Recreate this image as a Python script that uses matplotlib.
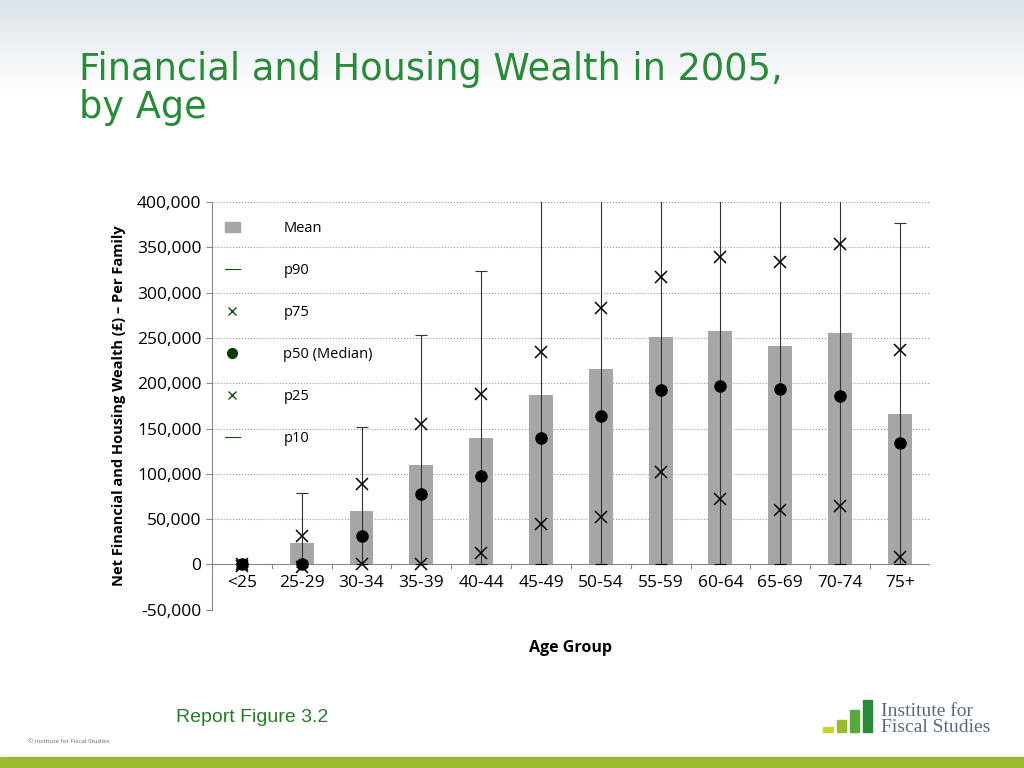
import matplotlib
matplotlib.use("Agg")
import matplotlib.pyplot as plt
import numpy as np
from matplotlib.lines import Line2D
from matplotlib.patches import Rectangle

groups = ["<25","25-29","30-34","35-39","40-44","45-49","50-54","55-59","60-64","65-69","70-74","75+"]
mean = [1000, 24000, 59000, 110000, 140000, 187000, 216000, 251000, 258000, 241000, 255000, 166000]
p90 = [2000, 79000, 152000, 253000, 324000, 450000, 520000, 600000, 650000, 600000, 560000, 377000]
p75 = [0, 31000, 89000, 155000, 188000, 234000, 283000, 317000, 339000, 334000, 354000, 237000]
p50 = [0, 1000, 31000, 78000, 98000, 140000, 164000, 192000, 197000, 194000, 186000, 134000]
p25 = [-2000, -3000, 1000, 1000, 13000, 45000, 52000, 102000, 72000, 60000, 64000, 8000]
p10 = [-3000, -3000, 0, 0, 0, 0, 0, 0, 0, 0, 0, 0]

plt.rcParams["font.family"] = ["Open Sans", "DejaVu Sans"]
fig = plt.figure(figsize=(10.24, 7.68), dpi=100)
grad = np.linspace(0.0, 1.0, 100).reshape(-1, 1)
rgb = np.dstack([0.86 + 0.14*grad, 0.89 + 0.11*grad, 0.91 + 0.09*grad])
hax = fig.add_axes([0, 0.88, 1, 0.12]); hax.axis("off")
hax.imshow(rgb, aspect="auto", extent=[0,1,0,1], origin="upper")
fig.add_artist(Rectangle((0, 0), 1, 11/768, transform=fig.transFigure, color="#9bbb2f"))

fig.text(0.077, 0.885, "Financial and Housing Wealth in 2005,\nby Age", color="#2a8a3a",
         fontsize=26.5, va="center", linespacing=1.05, family="DejaVu Sans")
fig.text(0.172, 0.06, "Report Figure 3.2", color="#2a7a2a", fontsize=14, family="Liberation Sans")
fig.text(0.027, 0.033, "© Institute for Fiscal Studies", color="#666666", fontsize=4.5)
for i, (h, c) in enumerate([(0.006, "#c5d43a"), (0.015, "#9bbb2f"), (0.028, "#5aa83a"), (0.042, "#2a8a3a")]):
    fig.add_artist(Rectangle((0.804 + i*0.013, 0.047), 0.009, h, transform=fig.transFigure, color=c))
fig.text(0.86, 0.063, "Institute for\nFiscal Studies", color="#5a6a7a", fontsize=14,
         family="Liberation Serif", va="center", linespacing=0.9)

ax = fig.add_axes([0.207, 0.206, 0.701, 0.531])
x = np.arange(len(groups))
ax.bar(x, mean, width=0.4, color="#a6a6a6", zorder=2)
ax.vlines(x, p10, p90, color="#333333", lw=0.8, zorder=3)
ax.plot(x, p90, "_", color="#333333", ms=8, mew=0.8, zorder=3)
ax.plot(x, p75, "x", color="black", ms=9, mew=1.1, zorder=4)
ax.plot(x, p25, "x", color="black", ms=9, mew=1.1, zorder=4)
ax.plot(x, p50, "o", color="black", ms=8, zorder=5)
ax.plot(x, p10, "_", color="black", ms=8, mew=0.8, zorder=4)

ax.set_ylim(-50000, 400000)
ax.set_xlim(-0.5, len(groups) - 0.5)
ax.set_yticks(np.arange(-50000, 400001, 50000))
ax.set_yticklabels([f"{v:,}" for v in range(-50000, 400001, 50000)], fontsize=12.5)
ax.set_xticks([])
for xi, g in zip(x, groups):
    ax.text(xi, -12000, g, ha="center", va="top", fontsize=12.5)
ax.axhline(0, color="#888888", lw=0.8, zorder=2)
for b in np.arange(-0.5, len(groups), 1):
    ax.plot([b, b], [0, -4000], color="#888888", lw=0.8, zorder=2)
ax.grid(axis="y", color="#999999", ls=":", lw=0.8, zorder=0)
for s in ["top", "right", "bottom"]:
    ax.spines[s].set_visible(False)
ax.spines["left"].set_color("#888888")
ax.tick_params(axis="y", length=4, color="#888888")
ax.set_ylabel("Net Financial and Housing Wealth (£) – Per Family", fontsize=10.5, fontweight="bold", labelpad=8)
ax.set_xlabel("Age Group", fontsize=11.5, fontweight="bold", labelpad=22)

g = "#1a4a1a"
handles = [Rectangle((0,0),1,1,color="#a6a6a6"),
           Line2D([],[],color=g,lw=0.8),
           Line2D([],[],ls="",marker="x",color=g,ms=6),
           Line2D([],[],ls="",marker="o",color="#0a3a0a",ms=7),
           Line2D([],[],ls="",marker="x",color=g,ms=6),
           Line2D([],[],color=g,lw=0.8)]
labels = ["Mean","p90","p75","p50 (Median)","p25","p10"]
leg = ax.legend(handles, labels, loc="upper left", bbox_to_anchor=(0.0, 0.985), frameon=False,
                fontsize=10.5, labelspacing=1.85, handlelength=1.0, handletextpad=3.0)
plt.savefig("out.png", dpi=100)
